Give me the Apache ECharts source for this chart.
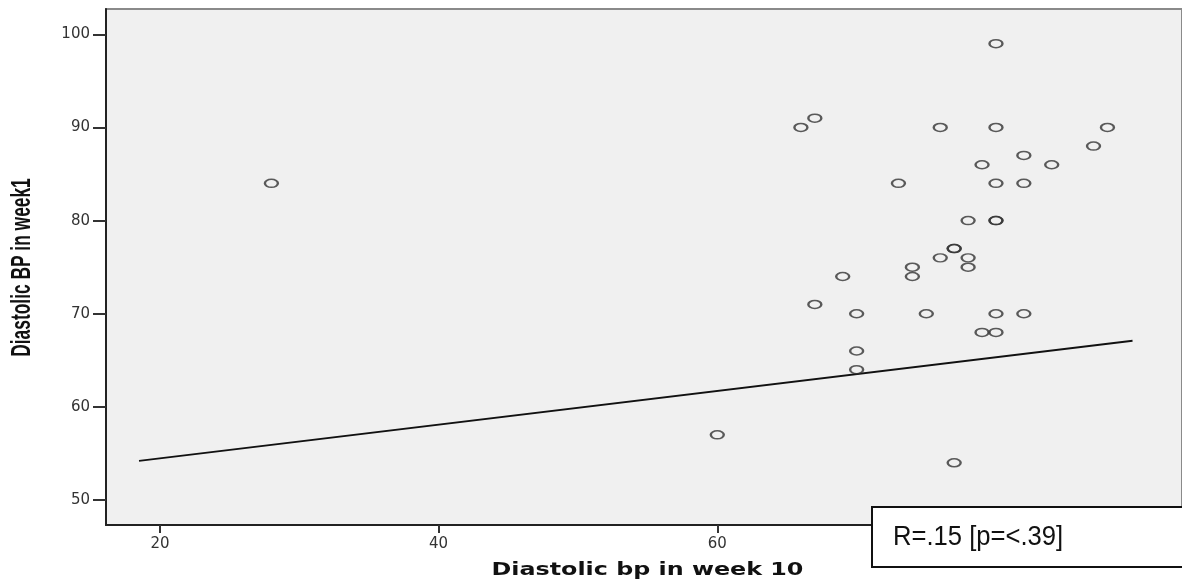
<!DOCTYPE html>
<html>
<head>
<meta charset="utf-8">
<script src="https://cdn.jsdelivr.net/npm/echarts@6/dist/echarts.min.js"></script>
<style>
html,body{margin:0;padding:0;background:#fff;}
#chart{width:1182px;height:582px;}
</style>
</head>
<body>
<div id="chart"></div>
<script>
// Diastolic bp in week 10 (x) vs Diastolic BP in week1 (y)
const week10 = [28, 60, 66, 67, 67, 69, 70, 70, 70, 73, 74, 74, 75, 76, 76, 77, 77, 77, 78, 78, 78, 79, 79, 80, 80, 80, 80, 80, 80, 80, 82, 82, 82, 84, 87, 88];
const week1  = [84, 57, 90, 91, 71, 74, 70, 66, 64, 84, 75, 74, 70, 90, 76, 77, 77, 54, 80, 76, 75, 86, 68, 99, 90, 84, 80, 80, 70, 68, 87, 84, 70, 86, 88, 90];
// fit line end points as drawn
const fitX = [18.5, 89.8];
const fitY = [54.2, 67.1];
const xTicks = [20, 40, 60, 80];
const yTicks = [50, 60, 70, 80, 90, 100];
const xTitle = 'Diastolic bp in week 10';
const yTitle = 'Diastolic BP in week1';
const annotation = 'R=.15 [p=<.39]';

const points = week10.map((x, i) => [x, week1[i]]);
const fitLine = fitX.map((x, i) => [x, fitY[i]]);

const chart = echarts.init(document.getElementById('chart'), null, {renderer: 'canvas'});
chart.setOption({
  animation: false,
  backgroundColor: '#ffffff',
  grid: {
    left: 106, top: 9, right: -2, bottom: 57,
    show: true, backgroundColor: '#f0f0f0', borderColor: '#8a8a8a', borderWidth: 2
  },
  xAxis: {
    type: 'value', min: 16.13, max: 93.35,
    splitLine: {show: false},
    axisLine: {show: true, onZero: false, lineStyle: {color: '#222', width: 2}},
    axisTick: {show: true, length: 8, customValues: xTicks, lineStyle: {color: '#333', width: 2}},
    axisLabel: {customValues: xTicks, margin: 12, color: '#333', fontFamily: 'DejaVu Sans', fontSize: 15}
  },
  yAxis: {
    type: 'value', min: 47.32, max: 102.72,
    splitLine: {show: false},
    axisLine: {show: true, onZero: false, lineStyle: {color: '#222', width: 2}},
    axisTick: {show: true, length: 13, customValues: yTicks, lineStyle: {color: '#333', width: 2}},
    axisLabel: {customValues: yTicks, margin: 16, color: '#333', fontFamily: 'DejaVu Sans', fontSize: 15}
  },
  series: [
    {
      type: 'scatter', data: points, symbol: 'circle', symbolSize: [13, 8],
      itemStyle: {color: 'rgba(0,0,0,0)', borderColor: '#333', borderWidth: 1.9},
      z: 3
    },
    {
      type: 'line', data: fitLine, showSymbol: false, symbol: 'none',
      lineStyle: {color: '#111', width: 1.8}, z: 2, silent: true
    }
  ],
  graphic: [
    {type: 'text', x: 647.5, y: 570, scaleX: 1.36, z: 50,
     style: {text: xTitle, fill: '#111', font: 'bold 17.5px "DejaVu Sans", sans-serif', align: 'center', verticalAlign: 'middle'}},
    {type: 'text', x: 22.5, y: 267.5, rotation: Math.PI / 2, scaleX: 0.62, z: 50,
     style: {text: yTitle, fill: '#111', font: 'bold 28px "Liberation Sans", sans-serif', align: 'center', verticalAlign: 'middle'}},
    {type: 'rect', x: 872, y: 507, z: 100, zlevel: 1, shape: {x: 0, y: 0, width: 330, height: 60},
     style: {fill: '#fff', stroke: '#111', lineWidth: 2}},
    {type: 'text', x: 893, y: 537, scaleX: 0.915, z: 101, zlevel: 1,
     style: {text: annotation, fill: '#111', font: '28px "Liberation Sans", sans-serif', align: 'left', verticalAlign: 'middle'}}
  ]
});
</script>
</body>
</html>
